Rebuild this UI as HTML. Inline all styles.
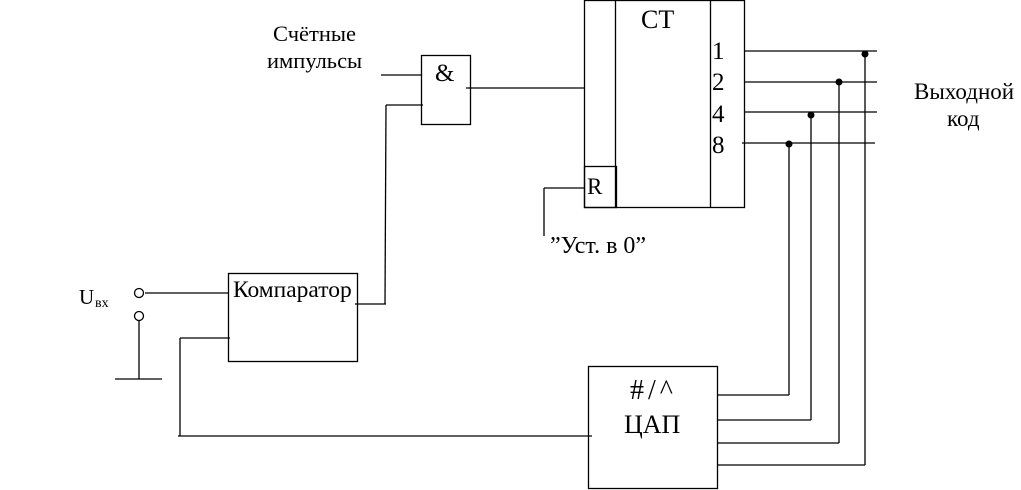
<!DOCTYPE html>
<html><head><meta charset="utf-8"><style>
html,body{margin:0;padding:0;background:#fff;}
svg{display:block;}
text{font-family:"Liberation Serif","Noto Serif CJK SC",serif;fill:#000;}
</style></head><body>
<svg width="1021" height="490" viewBox="0 0 1021 490" xmlns="http://www.w3.org/2000/svg">
<g fill="none" stroke="#000" stroke-width="1.3">
<rect x="584.5" y="0.5" width="160" height="207"/>
<line x1="615.5" y1="0" x2="615.5" y2="207"/>
<line x1="710.5" y1="0" x2="710.5" y2="207"/>
<rect x="584.5" y="166.5" width="32" height="41"/>
<line x1="544" y1="188" x2="584" y2="188"/>
<line x1="544" y1="188" x2="544" y2="236"/>
<line x1="745" y1="51" x2="877" y2="51"/>
<line x1="745" y1="82" x2="877" y2="82"/>
<line x1="745" y1="112" x2="877" y2="112"/>
<line x1="742" y1="143" x2="875" y2="143"/>
<line x1="865" y1="54" x2="865" y2="465"/>
<line x1="839" y1="82" x2="839" y2="443"/>
<line x1="811" y1="115" x2="811" y2="420"/>
<line x1="789" y1="143" x2="789" y2="395"/>
<line x1="717" y1="465" x2="865" y2="465"/>
<line x1="717" y1="443" x2="839" y2="443"/>
<line x1="717" y1="420" x2="811" y2="420"/>
<line x1="717" y1="395" x2="789" y2="395"/>
<rect x="421.5" y="55.5" width="49" height="69"/>
<line x1="381" y1="75" x2="421" y2="75"/>
<line x1="466" y1="88" x2="584" y2="88"/>
<line x1="386" y1="105" x2="423" y2="105"/>
<line x1="386" y1="105" x2="385" y2="304"/>
<line x1="355" y1="304" x2="386" y2="304"/>
<rect x="228.5" y="273.5" width="129" height="88"/>
<line x1="145" y1="293" x2="228" y2="293"/>
<line x1="180" y1="338" x2="230" y2="338"/>
<line x1="180" y1="338" x2="180" y2="436"/>
<line x1="178" y1="436" x2="592" y2="436"/>
<circle cx="139" cy="293" r="4.5" fill="#fff"/>
<circle cx="139" cy="316" r="4.5" fill="#fff"/>
<line x1="139" y1="320" x2="139" y2="379"/>
<line x1="115" y1="379" x2="162" y2="379"/>
<rect x="588.5" y="366.5" width="129" height="122"/>
</g>
<g fill="#000">
<circle cx="865" cy="54" r="3.5"/>
<circle cx="839" cy="82" r="3.5"/>
<circle cx="811" cy="115" r="3.5"/>
<circle cx="789" cy="144" r="3.5"/>
</g>
<text x="641" y="28" font-size="26">CT</text>
<text x="712" y="59" font-size="25">1</text>
<text x="712" y="90" font-size="25">2</text>
<text x="712" y="122" font-size="25">4</text>
<text x="712" y="153" font-size="25">8</text>
<text x="587" y="194" font-size="23">R</text>
<text x="435" y="81" font-size="25">&amp;</text>
<text x="273" y="41" font-size="22.5">Счётные</text>
<text x="267" y="68" font-size="22.5">импульсы</text>
<text x="914" y="99" font-size="23">Выходной</text>
<text x="947" y="126" font-size="23">код</text>
<text x="550" y="253" font-size="24">”Уст. в 0”</text>
<text x="233" y="297" font-size="23.5">Компаратор</text>
<text x="79" y="304" font-size="21">U</text>
<text x="95" y="307" font-size="14">вх</text>
<text x="630" y="399" font-size="28" letter-spacing="4">#/^</text>
<text x="624" y="433" font-size="26">ЦАП</text>
</svg>
</body></html>
